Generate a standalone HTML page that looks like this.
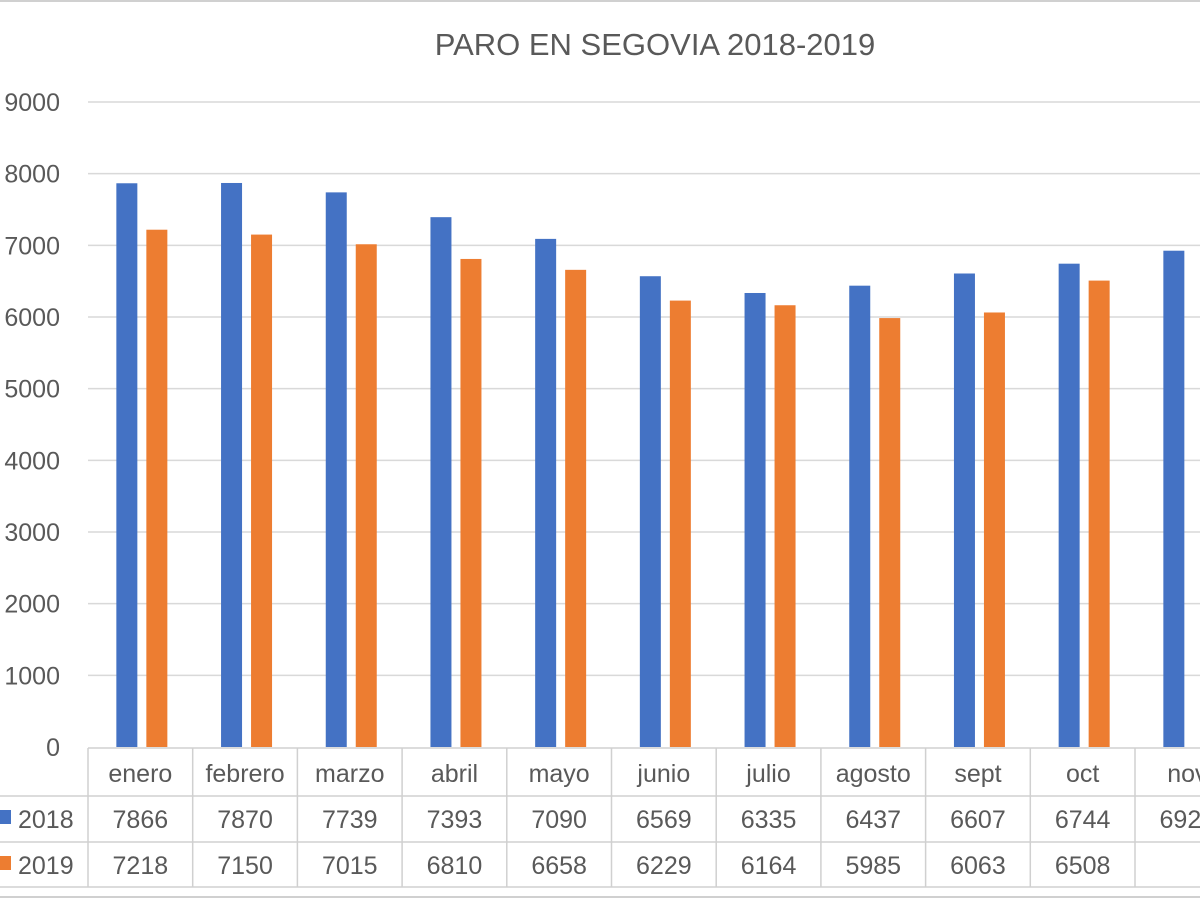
<!DOCTYPE html>
<html><head><meta charset="utf-8"><style>
body{margin:0;background:#fff;width:1200px;height:900px;overflow:hidden;font-family:"Liberation Sans",sans-serif}
svg text{font-family:"Liberation Sans",sans-serif;fill:#595959}
</style></head><body>
<svg id="c" width="1200" height="900"></svg>
<script>
const categories=["enero","febrero","marzo","abril","mayo","junio","julio","agosto","sept","oct","nov"];
const s2018=[7866,7870,7739,7393,7090,6569,6335,6437,6607,6744,6925];
const s2019=[7218,7150,7015,6810,6658,6229,6164,5985,6063,6508,null];
const labels2018=["7866","7870","7739","7393","7090","6569","6335","6437","6607","6744","6925"];
const labels2019=["7218","7150","7015","6810","6658","6229","6164","5985","6063","6508",""];
const yTicks=[0,1000,2000,3000,4000,5000,6000,7000,8000,9000];
const NS="http://www.w3.org/2000/svg";
const svg=document.getElementById('c');
function y(v){return 747-v*(747-102)/9000;}
function colL(i){return 88+i*104.7;}
function cx(i){return colL(i)+52.35;}
function el(t,a,p){const e=document.createElementNS(NS,t);for(const k in a)e.setAttribute(k,a[k]);(p||svg).appendChild(e);return e;}
const title=el('text',{x:655,y:55,'font-size':31,'text-anchor':'middle'});title.textContent='PARO EN SEGOVIA 2018-2019';


yTicks.forEach(t=>{
 if(t>0){const g=el('line',{x1:88,x2:1200,y1:y(t),y2:y(t),stroke:'#d9d9d9','stroke-width':1.5});
 
 }
 const tx=el('text',{x:60,y:y(t)+9,'font-size':25,'text-anchor':'end'});tx.textContent=t;
 
 
});
categories.forEach((c,i)=>{
 const b=el('rect',{x:cx(i)-24,y:y(s2018[i]),width:21,height:747-y(s2018[i]),fill:'#4472c4'});
 
 
 if(s2019[i]!=null){const o=el('rect',{x:cx(i)+6,y:y(s2019[i]),width:21,height:747-y(s2019[i]),fill:'#ed7d31'});
 
 }
 const t=el('text',{x:cx(i),y:782,'font-size':25,'text-anchor':'middle'});t.textContent=c;
 
 
 const a=el('text',{x:cx(i),y:828,'font-size':25,'text-anchor':'middle'});a.textContent=labels2018[i];
 
 
 const d=el('text',{x:cx(i),y:874,'font-size':25,'text-anchor':'middle'});d.textContent=labels2019[i];
 
 
});
el('line',{x1:88,x2:1200,y1:748,y2:748,stroke:'#d0d0d0','stroke-width':1.5});
el('line',{x1:0,x2:1200,y1:796,y2:796,stroke:'#d0d0d0','stroke-width':1.5});
el('line',{x1:0,x2:1200,y1:842,y2:842,stroke:'#d0d0d0','stroke-width':1.5});
el('line',{x1:0,x2:1200,y1:887,y2:887,stroke:'#d0d0d0','stroke-width':1.5});
for(let i=0;i<=categories.length;i++)el('line',{x1:colL(i),x2:colL(i),y1:748,y2:887,stroke:'#d0d0d0','stroke-width':1.5});
const l1=el('rect',{x:0,y:810,width:11,height:14,fill:'#4472c4'});


const l2=el('rect',{x:0,y:856,width:11,height:14,fill:'#ed7d31'});


const t1=el('text',{x:18,y:828,'font-size':25});t1.textContent='2018';


const t2=el('text',{x:18,y:874,'font-size':25});t2.textContent='2019';


el('line',{x1:0,x2:1200,y1:1,y2:1,stroke:'#d0d0d0','stroke-width':2});
el('line',{x1:0,x2:1200,y1:897,y2:897,stroke:'#d0d0d0','stroke-width':2});
</script>
</body></html>
